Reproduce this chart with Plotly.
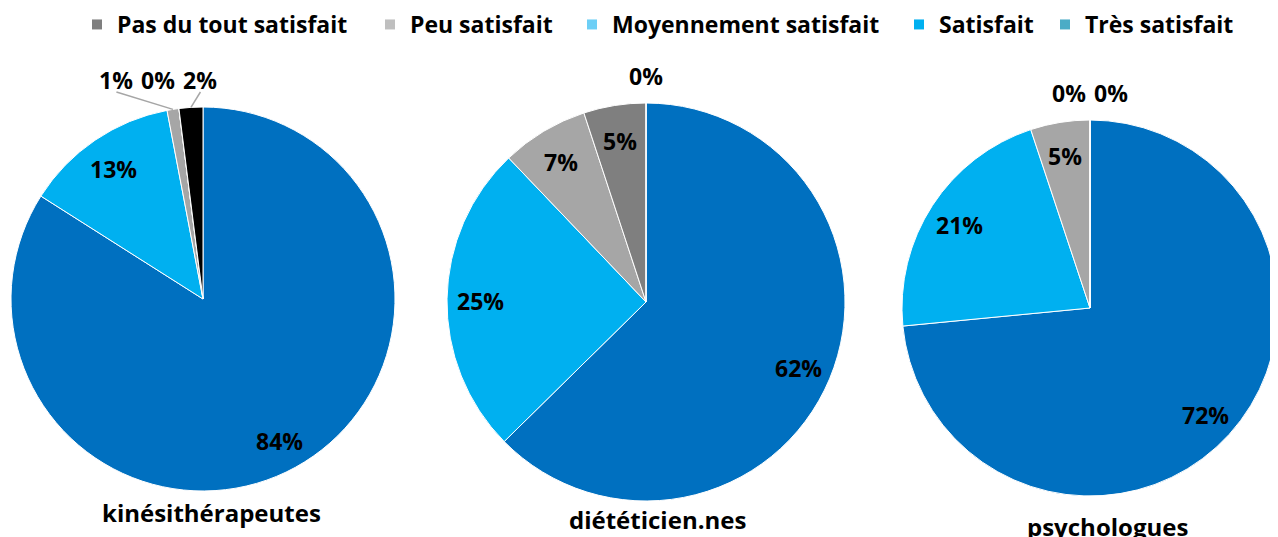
import math
import plotly.graph_objects as go

# ---------------- Data ----------------
slice_labels = ["Très satisfait", "Satisfait", "Moyennement satisfait", "Peu satisfait", "Pas du tout satisfait"]
slice_colors = ["#0070C0", "#00B0F0", "#A6A6A6", "#7F7F7F", "#000000"]

groups = ["kinésithérapeutes", "diététicien.nes", "psychologues"]
kine_values = [84, 13, 1, 0, 2]
diet_values = [62, 25, 7, 5, 0]
psy_values = [72, 21, 5, 0, 0]

legend_labels = ["Pas du tout satisfait", "Peu satisfait", "Moyennement satisfait", "Satisfait", "Très satisfait"]
legend_colors = ["#7F7F7F", "#BFBFBF", "#6DCFF6", "#00B0F0", "#4BACC6"]

# ---------------- Layout (window pixels) ----------------
WIN_W, WIN_H = 1278, 537
OFF = 8                      # default page body margin
FW, FH = WIN_W - OFF, WIN_H - OFF
FONT = "Open Sans"

def fx(X):
    return (X - OFF) / FW

def fy(Y):
    return 1 - (Y - OFF) / FH

# pie geometry: centre x, centre y, radius (window px)
pie_geom = [(203, 299, 192), (646, 302, 199), (1090, 308, 188)]
title_pos = [(211, 512), (657, 519), (1107, 526)]
legend_marker_x = [97, 390, 592, 919, 1065]

fig = go.Figure()

all_vals = [kine_values, diet_values, psy_values]
for vals, (cx, cy, r) in zip(all_vals, pie_geom):
    fig.add_trace(go.Pie(
        labels=slice_labels,
        values=vals,
        textinfo="none",
        sort=False,
        direction="clockwise",
        rotation=0,
        marker=dict(colors=slice_colors, line=dict(color="white", width=1)),
        domain=dict(x=[fx(cx - r), min(1, fx(cx + r))], y=[fy(cy + r), fy(cy - r)]),
        showlegend=False,
        hoverinfo="label+value",
    ))

# data labels, placed from the slice angles (computed from the values)
lab_font = dict(family=FONT, size=23, color="black", weight="bold")
for vals, (cx, cy, r) in zip(all_vals, pie_geom):
    total = float(sum(vals))
    cum = 0.0
    outside = []
    for v in vals:
        mid = (cum + v / 2) / total * 2 * math.pi
        cum += v
        if v >= 3:
            X = cx + 0.83 * r * math.sin(mid)
            Y = cy - 0.83 * r * math.cos(mid) + 2
            fig.add_annotation(text=f"{v}%", x=fx(X), y=fy(Y), xref="paper", yref="paper",
                               xanchor="center", yanchor="middle", showarrow=False, font=lab_font)
        else:
            outside.append((v, mid))
    if outside:
        nat = [cx + (r + 22) * math.sin(m) for _, m in outside]
        n = len(outside)
        sep = 42
        mean = sum(nat) / n - (20 if n > 2 else 0)
        xs = [mean + (i - (n - 1) / 2) * sep for i in range(n)]
        Yl = cy - r - 27
        for (v, m), X in zip(outside, xs):
            fig.add_annotation(text=f"{v}%", x=fx(X), y=fy(Yl), xref="paper", yref="paper",
                               xanchor="center", yanchor="middle", showarrow=False, font=lab_font)
            if v > 0:
                ex = cx + r * math.sin(m)
                ey = cy - r * math.cos(m)
                fig.add_shape(type="line", xref="paper", yref="paper",
                              x0=fx(X), y0=fy(Yl + 12), x1=fx(ex), y1=fy(ey),
                              line=dict(color="#A6A6A6", width=1.5))

# category titles under each pie
for g, (tx, ty) in zip(groups, title_pos):
    fig.add_annotation(
        text=g, x=fx(tx), y=fy(ty), xref="paper", yref="paper",
        xanchor="center", yanchor="middle", showarrow=False,
        font=dict(family=FONT, size=24, color="black", weight="bold"),
    )

# legend (one legend box per entry so spacing matches)
layout_legends = {}
for i, (lab, col, mx) in enumerate(zip(legend_labels, legend_colors, legend_marker_x)):
    key = "legend" if i == 0 else f"legend{i + 1}"
    fig.add_trace(go.Scatter(
        x=[None], y=[None], mode="markers", name=lab,
        marker=dict(symbol="square", size=10, color=col),
        showlegend=True, legend=key,
    ))
    layout_legends[key] = dict(
        orientation="h", x=fx(mx - 20), y=fy(3), xanchor="left", yanchor="top",
        font=dict(family=FONT, size=23, color="black", weight="bold"),
        bgcolor="rgba(0,0,0,0)",
    )

fig.update_layout(
    width=FW, height=FH,
    margin=dict(l=0, r=0, t=0, b=0, autoexpand=False),
    paper_bgcolor="white", plot_bgcolor="white",
    xaxis=dict(visible=False), yaxis=dict(visible=False),
    **layout_legends,
)

fig.write_html("out.html")
